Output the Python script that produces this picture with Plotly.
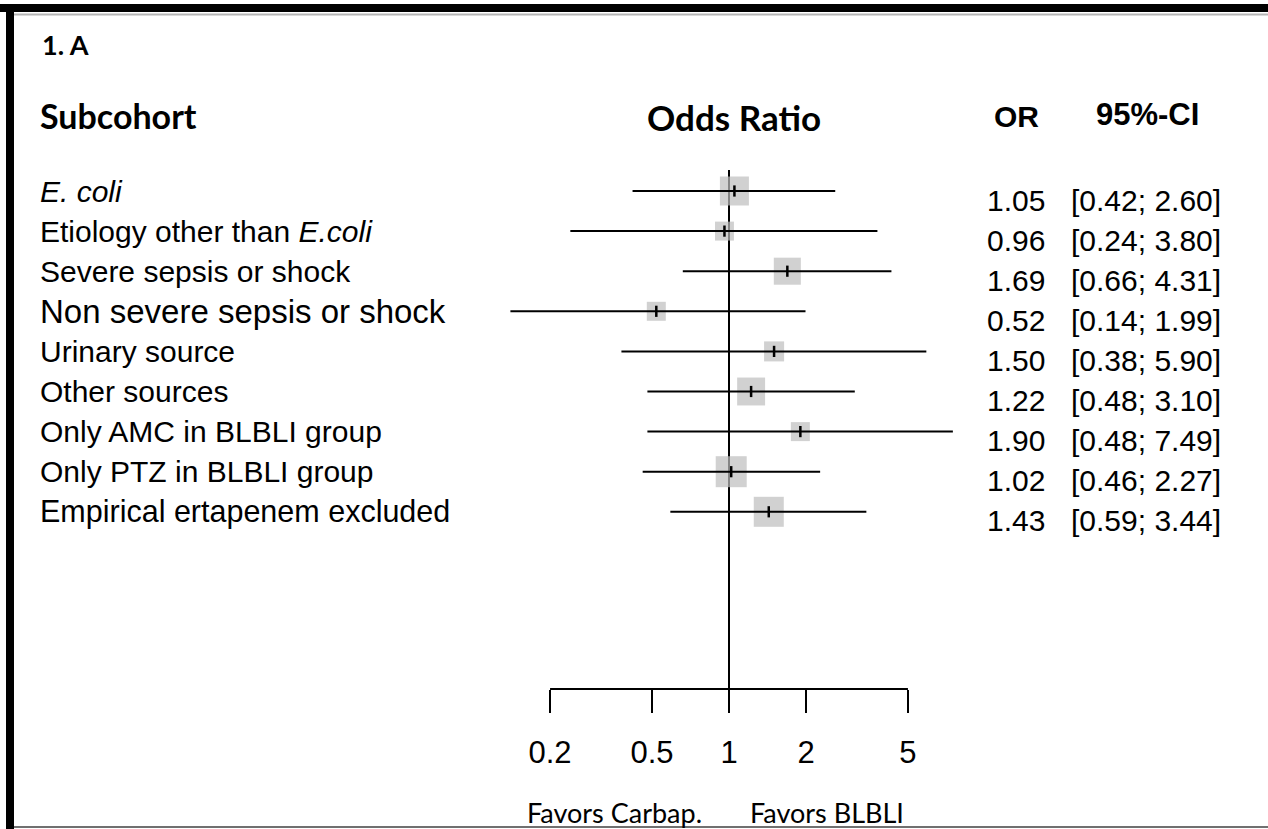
import numpy as np
import plotly.graph_objects as go

# ---------------- data ----------------
subcohorts = [
    "<i>E. coli</i>",
    "Etiology other than <i>E.coli</i>",
    "Severe sepsis or shock",
    "Non severe sepsis or shock",
    "Urinary source",
    "Other sources",
    "Only AMC in BLBLI group",
    "Only PTZ in BLBLI group",
    "Empirical ertapenem excluded",
]
odds_ratio = [1.05, 0.96, 1.69, 0.52, 1.50, 1.22, 1.90, 1.02, 1.43]
ci_lower = [0.42, 0.24, 0.66, 0.14, 0.38, 0.48, 0.48, 0.46, 0.59]
ci_upper = [2.60, 3.80, 4.31, 1.99, 5.90, 3.10, 7.49, 2.27, 3.44]
weights = [8.4, 3.6, 7.3, 3.6, 4.0, 7.8, 3.6, 9.6, 9.0]
tick_values = [0.2, 0.5, 1, 2, 5]
tick_labels = ["0.2", "0.5", "1", "2", "5"]
null_value = 1

# ---------------- layout helpers (pixels) ----------------
W, H = 1268, 829
def fx(p):
    return p / W
def fy(p):
    return 1 - p / H

ARIAL = "Liberation Sans, Arial, sans-serif"
CALIBRI = "Lato, Open Sans, sans-serif"

# x: log axis, 256 px per decade, OR=1 at x=729 px
PPD, X_ONE = 256.0, 729.0
XA, XB = 400.0, 1000.0
x_range = [(XA - X_ONE) / PPD, (XB - X_ONE) / PPD]
# y: row i at 191 + 40.1*i px
ROW0, ROWSTEP = 191.0, 40.1
YT, YB = 170.0, 689.0
y_range = [(YB - ROW0) / ROWSTEP, (YT - ROW0) / ROWSTEP]

rows = list(range(len(subcohorts)))
max_w = max(weights)
box_sizes = [31 * np.sqrt(w / max_w) for w in weights]

fig = go.Figure()

# weight boxes
fig.add_trace(go.Scatter(
    x=odds_ratio, y=rows, mode="markers",
    marker=dict(symbol="square", size=box_sizes, color="#bdbdbd", line=dict(width=0)),
    hoverinfo="skip", showlegend=False,
))
# confidence intervals
cx, cy = [], []
for lo, hi, r in zip(ci_lower, ci_upper, rows):
    cx += [lo, hi, None]
    cy += [r, r, None]
fig.add_trace(go.Scatter(
    x=cx, y=cy, mode="lines", line=dict(color="black", width=2),
    hoverinfo="skip", showlegend=False,
))
# point estimate ticks
fig.add_trace(go.Scatter(
    x=odds_ratio, y=rows, mode="markers",
    marker=dict(symbol="line-ns", size=8, line=dict(color="black", width=2.5)),
    hoverinfo="skip", showlegend=False,
))

shapes = []
# reference line at OR = 1
shapes.append(dict(type="line", xref="x", yref="y domain", x0=null_value, x1=null_value, y0=0, y1=1,
                   line=dict(color="black", width=2), layer="below"))
# axis line between the extreme ticks
shapes.append(dict(type="line", xref="x", yref="y domain",
                   x0=tick_values[0], x1=tick_values[-1], y0=0, y1=0,
                   line=dict(color="black", width=2)))
# frame
shapes.append(dict(type="rect", xref="paper", yref="paper", x0=fx(0), x1=fx(W), y0=fy(4), y1=fy(12),
                   fillcolor="black", line=dict(width=0)))
shapes.append(dict(type="line", xref="paper", yref="paper", x0=fx(14), x1=fx(W), y0=fy(14.5), y1=fy(14.5),
                   line=dict(color="#b5b5b5", width=2)))
shapes.append(dict(type="rect", xref="paper", yref="paper", x0=fx(6), x1=fx(14), y0=fy(4), y1=fy(829),
                   fillcolor="black", line=dict(width=0)))
shapes.append(dict(type="line", xref="paper", yref="paper", x0=fx(14), x1=fx(W), y0=fy(827), y1=fy(827),
                   line=dict(color="#707070", width=2)))

ann = []
def text(s, x, y, size, family, xanchor="left", yref="paper", bold=False):
    ann.append(dict(text=f"<b>{s}</b>" if bold else s, x=x, y=y, xref="paper", yref=yref,
                    xanchor=xanchor, yanchor="middle", showarrow=False,
                    font=dict(size=size, family=family, color="black")))

text("1. A", fx(40), fy(45), 27, CALIBRI, bold=True)
text("Subcohort", fx(38), fy(115), 34, CALIBRI, bold=True)
text("Odds Ratio", fx(734), fy(117), 35, CALIBRI, xanchor="center", bold=True)
text("OR", fx(1016), fy(117), 30, ARIAL, xanchor="center", bold=True)
text("95%-CI", fx(1147), fy(114), 31, ARIAL, xanchor="center", bold=True)

label_sizes = [30, 30, 30, 33, 30, 30, 30, 30, 30.5]
for r, lab, sz in zip(rows, subcohorts, label_sizes):
    text(lab, fx(38), r, sz, ARIAL, yref="y")
for r, o, lo, hi in zip(rows, odds_ratio, ci_lower, ci_upper):
    text(f"{o:.2f}", fx(1047), r + 9 / ROWSTEP, 30, ARIAL, xanchor="right", yref="y")
    text(f"[{lo:.2f}; {hi:.2f}]", fx(1069), r + 9 / ROWSTEP, 30, ARIAL, yref="y")

text("Favors Carbap.", fx(614), fy(812), 27, CALIBRI, xanchor="center")
text("Favors BLBLI", fx(827), fy(812), 27, CALIBRI, xanchor="center")

fig.update_layout(
    width=W, height=H, autosize=False,
    margin=dict(l=0, r=0, t=0, b=0),
    paper_bgcolor="white", plot_bgcolor="rgba(0,0,0,0)",
    shapes=shapes, annotations=ann, showlegend=False,
    xaxis=dict(type="log", range=x_range, domain=[fx(XA), fx(XB)],
               tickvals=tick_values, ticktext=tick_labels,
               ticks="outside", ticklen=23, tickwidth=2, tickcolor="black",
               tickfont=dict(size=31, family=ARIAL, color="black"),
               ticklabelstandoff=13,
               showline=False, showgrid=False, zeroline=False, fixedrange=True),
    yaxis=dict(range=y_range, domain=[fy(YB), fy(YT)], visible=False, fixedrange=True),
)

fig.write_html("out.html")
